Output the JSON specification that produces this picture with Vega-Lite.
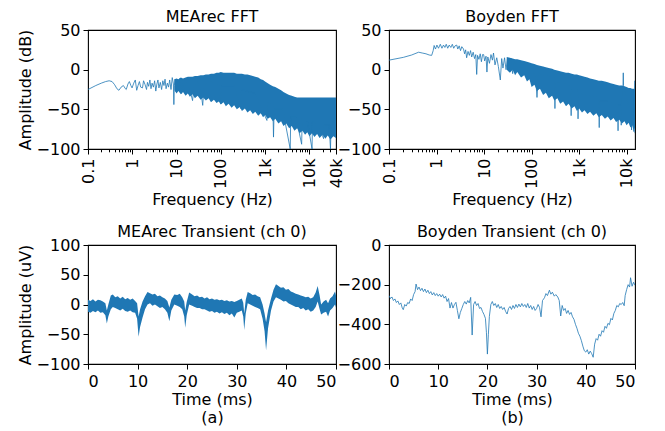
{
  "$schema": "https://vega.github.io/schema/vega-lite/v6.json",
  "padding": {"left": 16, "top": 8, "right": 5, "bottom": 5},
  "config": {
    "font": "DejaVu Sans",
    "view": {"stroke": "#000", "strokeWidth": 1.1},
    "axis": {"domain": false, "grid": false, "labelFontSize": 16, "titleFontSize": 16, "titleFontWeight": "normal", "labelColor": "#000", "titleColor": "#000", "tickColor": "#000", "tickSize": 5, "tickWidth": 1, "labelPadding": 3, "titlePadding": 3},
    "title": {"fontSize": 16, "fontWeight": "normal", "color": "#000", "offset": -3},
    "line": {"color": "#1f77b4", "strokeWidth": 0.8},
    "area": {"color": "#1f77b4"}
  },
  "datasets": {
    "meaLine": [
      {"f":0.1,"y":-25},{"f":0.15,"y":-20},{"f":0.2,"y":-17},{"f":0.25,"y":-15},{"f":0.3,"y":-14},{"f":0.35,"y":-15},{"f":0.4,"y":-19},{"f":0.45,"y":-24},{"f":0.5,"y":-26},{"f":0.56,"y":-22},{"f":0.63,"y":-20},{"f":0.7,"y":-24},{"f":0.73,"y":-25},{"f":0.8,"y":-18},{"f":0.86,"y":-15},{"f":0.93,"y":-20},{"f":0.99,"y":-23},{"f":1.08,"y":-17},{"f":1.17,"y":-13},{"f":1.26,"y":-26},{"f":1.35,"y":-20},{"f":1.45,"y":-15},{"f":1.55,"y":-22},{"f":1.7,"y":-23},{"f":1.8,"y":-14},{"f":1.95,"y":-19},{"f":2.1,"y":-25},{"f":2.2,"y":-16},{"f":2.35,"y":-21},{"f":2.5,"y":-13},{"f":2.65,"y":-24},{"f":2.8,"y":-17},{"f":3.0,"y":-22},{"f":3.2,"y":-14},{"f":3.4,"y":-27},{"f":3.6,"y":-18},{"f":3.8,"y":-13},{"f":4.0,"y":-23},{"f":4.3,"y":-16},{"f":4.6,"y":-25},{"f":4.9,"y":-14},{"f":5.2,"y":-20},{"f":5.5,"y":-12},{"f":5.8,"y":-24},{"f":6.2,"y":-17},{"f":6.6,"y":-22},{"f":7.0,"y":-13},{"f":7.5,"y":-25},{"f":8.0,"y":-10},{"f":8.5,"y":-18},{"f":8.7,"y":-44},{"f":8.9,"y":-20},{"f":9.3,"y":-12},{"f":9.8,"y":-28},{"f":10.5,"y":-14},{"f":11,"y":-26},{"f":12,"y":-11},{"f":13,"y":-30},{"f":14,"y":-13},{"f":15,"y":-27},{"f":16,"y":-15},{"f":20,"y":-25},{"f":23,"y":-39},{"f":25,"y":-20},{"f":30,"y":-15},{"f":36,"y":-30},{"f":39,"y":-45},{"f":42,"y":-20},{"f":60,"y":-15},{"f":95,"y":-20},{"f":100,"y":-43},{"f":105,"y":-20},{"f":200,"y":-20},{"f":280,"y":-49},{"f":290,"y":-25},{"f":600,"y":-30},{"f":1100,"y":-64},{"f":1150,"y":-40},{"f":1500,"y":-45},{"f":1550,"y":-85},{"f":1600,"y":-50},{"f":2500,"y":-50},{"f":3700,"y":-100},{"f":3800,"y":-60},{"f":5000,"y":-60},{"f":6700,"y":-94},{"f":6900,"y":-60},{"f":9000,"y":-65},{"f":11500,"y":-100},{"f":11800,"y":-65},{"f":16000,"y":-70},{"f":21000,"y":-87},{"f":21500,"y":-70},{"f":28000,"y":-70},{"f":30000,"y":-100},{"f":31000,"y":-70},{"f":40000,"y":-60}
    ],
    "meaBand": [
      {"f":9,"y":-12,"lo":-26},{"f":10,"y":-11,"lo":-30},{"f":11,"y":-12,"lo":-27},{"f":12.5,"y":-10,"lo":-31},{"f":14,"y":-11,"lo":-28},{"f":16,"y":-10,"lo":-33},{"f":18,"y":-9,"lo":-30},{"f":20,"y":-9,"lo":-34},{"f":23,"y":-9,"lo":-31},{"f":26,"y":-8,"lo":-36},{"f":30,"y":-8,"lo":-33},{"f":35,"y":-7,"lo":-38},{"f":40,"y":-7,"lo":-35},{"f":46,"y":-6,"lo":-39},{"f":53,"y":-6,"lo":-36},{"f":60,"y":-5,"lo":-41},{"f":70,"y":-5,"lo":-38},{"f":80,"y":-4,"lo":-42},{"f":90,"y":-4,"lo":-40},{"f":100,"y":-3,"lo":-44},{"f":115,"y":-4,"lo":-41},{"f":130,"y":-4,"lo":-46},{"f":150,"y":-4,"lo":-43},{"f":175,"y":-4,"lo":-48},{"f":200,"y":-4,"lo":-45},{"f":230,"y":-5,"lo":-50},{"f":270,"y":-5,"lo":-47},{"f":300,"y":-5,"lo":-52},{"f":350,"y":-6,"lo":-49},{"f":400,"y":-6,"lo":-54},{"f":460,"y":-7,"lo":-51},{"f":530,"y":-8,"lo":-56},{"f":600,"y":-9,"lo":-53},{"f":700,"y":-10,"lo":-58},{"f":800,"y":-12,"lo":-55},{"f":900,"y":-13,"lo":-60},{"f":1000,"y":-15,"lo":-57},{"f":1150,"y":-17,"lo":-62},{"f":1300,"y":-19,"lo":-60},{"f":1500,"y":-21,"lo":-65},{"f":1700,"y":-22,"lo":-62},{"f":2000,"y":-24,"lo":-68},{"f":2300,"y":-26,"lo":-65},{"f":2600,"y":-28,"lo":-71},{"f":3000,"y":-30,"lo":-68},{"f":3500,"y":-32,"lo":-74},{"f":4000,"y":-33,"lo":-71},{"f":4600,"y":-34,"lo":-77},{"f":5300,"y":-35,"lo":-74},{"f":6000,"y":-35,"lo":-80},{"f":7000,"y":-35,"lo":-77},{"f":8000,"y":-35,"lo":-82},{"f":9000,"y":-35,"lo":-79},{"f":10000,"y":-35,"lo":-84},{"f":11500,"y":-35,"lo":-80},{"f":13000,"y":-35,"lo":-85},{"f":15000,"y":-35,"lo":-81},{"f":17000,"y":-35,"lo":-86},{"f":20000,"y":-35,"lo":-82},{"f":23000,"y":-35,"lo":-87},{"f":26000,"y":-35,"lo":-83},{"f":30000,"y":-35,"lo":-88},{"f":35000,"y":-35,"lo":-84},{"f":40000,"y":-35,"lo":-86}
    ],
    "boyLine": [
      {"f":0.1,"y":12},{"f":0.2,"y":15.5},{"f":0.3,"y":18.5},{"f":0.42,"y":22},{"f":0.5,"y":21},{"f":0.6,"y":20},{"f":0.7,"y":18.5},{"f":0.79,"y":18},{"f":0.85,"y":24},{"f":0.89,"y":30.5},{"f":0.95,"y":26},{"f":1.02,"y":31},{"f":1.1,"y":27},{"f":1.2,"y":32},{"f":1.3,"y":27},{"f":1.4,"y":31},{"f":1.5,"y":28},{"f":1.6,"y":32},{"f":1.72,"y":27},{"f":1.85,"y":31},{"f":2.0,"y":28},{"f":2.15,"y":32},{"f":2.3,"y":27},{"f":2.45,"y":30},{"f":2.66,"y":31},{"f":2.8,"y":26},{"f":3.0,"y":30},{"f":3.2,"y":24},{"f":3.4,"y":29},{"f":3.7,"y":26},{"f":3.9,"y":20},{"f":4.1,"y":25},{"f":4.3,"y":15},{"f":4.6,"y":23},{"f":4.9,"y":18},{"f":5.2,"y":24},{"f":5.5,"y":16},{"f":5.9,"y":22},{"f":6.3,"y":14},{"f":6.7,"y":19},{"f":7.0,"y":-6},{"f":7.3,"y":18},{"f":7.8,"y":13},{"f":8.3,"y":20},{"f":8.8,"y":10},{"f":9.3,"y":19},{"f":9.8,"y":19},{"f":10.3,"y":11},{"f":11,"y":17},{"f":11.5,"y":-3},{"f":12,"y":16},{"f":13,"y":8},{"f":14,"y":19},{"f":15,"y":12},{"f":15.8,"y":21},{"f":17,"y":6},{"f":18.5,"y":15},{"f":20,"y":4},{"f":22,"y":-13},{"f":23.5,"y":14},{"f":25,"y":2},{"f":27,"y":15},{"f":29,"y":0},{"f":31,"y":13},{"f":34,"y":-2},{"f":37,"y":14},{"f":40,"y":-5},{"f":43,"y":11},{"f":50,"y":5},{"f":120,"y":-5},{"f":130,"y":-35},{"f":140,"y":-5},{"f":300,"y":-10},{"f":310,"y":-49},{"f":320,"y":-15},{"f":660,"y":-20},{"f":680,"y":-58},{"f":700,"y":-25},{"f":930,"y":-25},{"f":950,"y":-62},{"f":980,"y":-30},{"f":2600,"y":-35},{"f":2650,"y":-73},{"f":2700,"y":-40},{"f":4000,"y":-40},{"f":6500,"y":-45},{"f":6600,"y":-77},{"f":6700,"y":-45},{"f":7600,"y":-45},{"f":7700,"y":-70},{"f":7800,"y":-40},{"f":8400,"y":-20},{"f":8500,"y":-4},{"f":8600,"y":-20},{"f":11000,"y":-45},{"f":12500,"y":-50},{"f":12700,"y":-76},{"f":12900,"y":-50},{"f":14000,"y":-50},{"f":14200,"y":-78},{"f":14400,"y":-50},{"f":14980,"y":-14},{"f":15000,"y":-80}
    ],
    "boyBand": [
      {"f":30,"y":16,"lo":0},{"f":35,"y":15,"lo":-4},{"f":40,"y":14,"lo":0},{"f":45,"y":13,"lo":-7},{"f":50,"y":13,"lo":-3},{"f":60,"y":12,"lo":-10},{"f":70,"y":11,"lo":-7},{"f":80,"y":10,"lo":-15},{"f":90,"y":9,"lo":-12},{"f":100,"y":8,"lo":-22},{"f":115,"y":7,"lo":-19},{"f":130,"y":6,"lo":-27},{"f":150,"y":5,"lo":-24},{"f":175,"y":4,"lo":-32},{"f":200,"y":3,"lo":-29},{"f":230,"y":2,"lo":-36},{"f":270,"y":1,"lo":-33},{"f":300,"y":0,"lo":-39},{"f":350,"y":-1,"lo":-36},{"f":400,"y":-2,"lo":-43},{"f":460,"y":-3,"lo":-40},{"f":530,"y":-4,"lo":-46},{"f":600,"y":-4,"lo":-43},{"f":700,"y":-5,"lo":-49},{"f":800,"y":-6,"lo":-46},{"f":900,"y":-6,"lo":-52},{"f":1000,"y":-7,"lo":-49},{"f":1150,"y":-8,"lo":-54},{"f":1300,"y":-9,"lo":-51},{"f":1500,"y":-10,"lo":-56},{"f":1700,"y":-11,"lo":-53},{"f":2000,"y":-12,"lo":-58},{"f":2300,"y":-13,"lo":-55},{"f":2600,"y":-14,"lo":-60},{"f":3000,"y":-14,"lo":-57},{"f":3500,"y":-15,"lo":-62},{"f":4000,"y":-16,"lo":-59},{"f":4600,"y":-17,"lo":-64},{"f":5300,"y":-18,"lo":-61},{"f":6000,"y":-19,"lo":-66},{"f":7000,"y":-20,"lo":-63},{"f":8000,"y":-20,"lo":-68},{"f":9000,"y":-21,"lo":-65},{"f":10000,"y":-22,"lo":-70},{"f":11000,"y":-23,"lo":-67},{"f":12000,"y":-23,"lo":-73},{"f":13000,"y":-24,"lo":-70},{"f":14000,"y":-24,"lo":-76},{"f":15000,"y":-25,"lo":-73}
    ],
    "meaT": [
      {"t":0,"y":8,"lo":-12},{"t":0.5,"y":6,"lo":-14},{"t":1,"y":9,"lo":-11},{"t":1.5,"y":5,"lo":-13},{"t":2,"y":8,"lo":-10},{"t":2.5,"y":7,"lo":-14},{"t":3,"y":5,"lo":-13},{"t":3.5,"y":2,"lo":-18},{"t":3.8,"y":-10,"lo":-32},{"t":4.1,"y":0,"lo":-20},{"t":4.6,"y":15,"lo":-8},{"t":5,"y":17,"lo":-4},{"t":5.5,"y":12,"lo":-6},{"t":6,"y":14,"lo":-8},{"t":6.5,"y":10,"lo":-10},{"t":7,"y":13,"lo":-7},{"t":7.5,"y":9,"lo":-11},{"t":8,"y":11,"lo":-12},{"t":8.5,"y":8,"lo":-10},{"t":9,"y":10,"lo":-13},{"t":9.5,"y":6,"lo":-14},{"t":9.9,"y":2,"lo":-24},{"t":10.2,"y":-20,"lo":-54},{"t":10.5,"y":-8,"lo":-38},{"t":11,"y":5,"lo":-22},{"t":11.5,"y":14,"lo":-8},{"t":12,"y":21,"lo":0},{"t":12.5,"y":19,"lo":2},{"t":13,"y":17,"lo":-2},{"t":13.5,"y":18,"lo":0},{"t":14,"y":14,"lo":-3},{"t":14.5,"y":15,"lo":-6},{"t":15,"y":12,"lo":-4},{"t":15.5,"y":10,"lo":-8},{"t":16,"y":6,"lo":-14},{"t":16.4,"y":-5,"lo":-28},{"t":16.8,"y":8,"lo":-10},{"t":17.4,"y":17,"lo":0},{"t":18,"y":16,"lo":-2},{"t":18.5,"y":18,"lo":-4},{"t":19,"y":12,"lo":-8},{"t":19.4,"y":5,"lo":-20},{"t":19.6,"y":-10,"lo":-39},{"t":19.9,"y":4,"lo":-18},{"t":20.4,"y":20,"lo":0},{"t":21,"y":17,"lo":-2},{"t":21.5,"y":14,"lo":-4},{"t":22,"y":15,"lo":-6},{"t":22.5,"y":12,"lo":-6},{"t":23,"y":13,"lo":-8},{"t":23.5,"y":10,"lo":-8},{"t":24,"y":12,"lo":-10},{"t":24.5,"y":9,"lo":-12},{"t":25,"y":10,"lo":-11},{"t":25.5,"y":8,"lo":-14},{"t":26,"y":9,"lo":-12},{"t":26.5,"y":7,"lo":-15},{"t":27,"y":8,"lo":-13},{"t":27.5,"y":6,"lo":-16},{"t":28,"y":7,"lo":-14},{"t":28.5,"y":5,"lo":-18},{"t":29,"y":6,"lo":-15},{"t":29.5,"y":4,"lo":-22},{"t":30,"y":6,"lo":-14},{"t":30.5,"y":8,"lo":-12},{"t":31,"y":10,"lo":-10},{"t":31.3,"y":3,"lo":-20},{"t":31.5,"y":-15,"lo":-43},{"t":31.8,"y":8,"lo":-15},{"t":32.2,"y":21,"lo":2},{"t":32.7,"y":19,"lo":0},{"t":33.2,"y":16,"lo":-2},{"t":33.7,"y":17,"lo":-4},{"t":34.2,"y":14,"lo":-6},{"t":34.7,"y":12,"lo":-8},{"t":35.2,"y":0,"lo":-24},{"t":35.6,"y":-15,"lo":-45},{"t":35.9,"y":-30,"lo":-77},{"t":36.3,"y":-10,"lo":-40},{"t":36.9,"y":10,"lo":-10},{"t":37.4,"y":25,"lo":5},{"t":37.9,"y":34,"lo":12},{"t":38.4,"y":31,"lo":10},{"t":38.9,"y":28,"lo":8},{"t":39.4,"y":29,"lo":5},{"t":39.9,"y":25,"lo":6},{"t":40.4,"y":26,"lo":2},{"t":40.9,"y":22,"lo":0},{"t":41.4,"y":20,"lo":-2},{"t":41.9,"y":18,"lo":-4},{"t":42.4,"y":17,"lo":-4},{"t":42.9,"y":15,"lo":-8},{"t":43.4,"y":14,"lo":-6},{"t":43.9,"y":12,"lo":-10},{"t":44.4,"y":13,"lo":-8},{"t":44.9,"y":10,"lo":-12},{"t":45.4,"y":12,"lo":-10},{"t":45.9,"y":20,"lo":-4},{"t":46.3,"y":31,"lo":5},{"t":46.7,"y":15,"lo":-8},{"t":47,"y":0,"lo":-17},{"t":47.5,"y":5,"lo":-14},{"t":48,"y":8,"lo":-12},{"t":48.4,"y":2,"lo":-20},{"t":48.8,"y":10,"lo":-10},{"t":49.3,"y":14,"lo":-6},{"t":49.8,"y":22,"lo":0},{"t":50,"y":15,"lo":-5}
    ],
    "boyT": [
      {"t":0,"y":-255},{"t":0.3,"y":-270},{"t":0.6,"y":-262},{"t":0.9,"y":-280},{"t":1.2,"y":-272},{"t":1.5,"y":-290},{"t":1.8,"y":-282},{"t":2.1,"y":-300},{"t":2.4,"y":-292},{"t":2.7,"y":-318},{"t":2.9,"y":-326},{"t":3.2,"y":-300},{"t":3.5,"y":-308},{"t":3.8,"y":-290},{"t":4.1,"y":-295},{"t":4.4,"y":-272},{"t":4.7,"y":-280},{"t":5.0,"y":-250},{"t":5.3,"y":-235},{"t":5.5,"y":-197},{"t":5.8,"y":-225},{"t":6.1,"y":-212},{"t":6.4,"y":-230},{"t":6.7,"y":-218},{"t":7.0,"y":-235},{"t":7.3,"y":-222},{"t":7.6,"y":-240},{"t":7.9,"y":-228},{"t":8.2,"y":-245},{"t":8.5,"y":-235},{"t":8.8,"y":-252},{"t":9.1,"y":-240},{"t":9.4,"y":-255},{"t":9.7,"y":-245},{"t":10.0,"y":-258},{"t":10.3,"y":-248},{"t":10.6,"y":-262},{"t":10.9,"y":-250},{"t":11.2,"y":-268},{"t":11.5,"y":-258},{"t":11.8,"y":-285},{"t":12.1,"y":-270},{"t":12.4,"y":-318},{"t":12.7,"y":-290},{"t":13.0,"y":-318},{"t":13.3,"y":-300},{"t":13.6,"y":-289},{"t":13.9,"y":-330},{"t":14.2,"y":-372},{"t":14.5,"y":-340},{"t":14.8,"y":-320},{"t":15.1,"y":-300},{"t":15.4,"y":-285},{"t":15.7,"y":-298},{"t":16.0,"y":-280},{"t":16.3,"y":-292},{"t":16.6,"y":-264},{"t":16.9,"y":-454},{"t":17.2,"y":-300},{"t":17.5,"y":-285},{"t":17.8,"y":-305},{"t":18.1,"y":-295},{"t":18.4,"y":-320},{"t":18.7,"y":-315},{"t":19.0,"y":-335},{"t":19.3,"y":-350},{"t":19.6,"y":-370},{"t":19.8,"y":-440},{"t":20.0,"y":-550},{"t":20.2,"y":-450},{"t":20.4,"y":-360},{"t":20.7,"y":-300},{"t":21.0,"y":-285},{"t":21.3,"y":-305},{"t":21.6,"y":-295},{"t":21.9,"y":-315},{"t":22.2,"y":-300},{"t":22.5,"y":-320},{"t":22.8,"y":-310},{"t":23.1,"y":-325},{"t":23.4,"y":-315},{"t":23.7,"y":-335},{"t":24.0,"y":-348},{"t":24.3,"y":-320},{"t":24.6,"y":-310},{"t":24.9,"y":-325},{"t":25.2,"y":-305},{"t":25.5,"y":-320},{"t":25.8,"y":-300},{"t":26.1,"y":-315},{"t":26.4,"y":-298},{"t":26.7,"y":-312},{"t":27.0,"y":-295},{"t":27.3,"y":-310},{"t":27.6,"y":-300},{"t":27.9,"y":-315},{"t":28.2,"y":-295},{"t":28.5,"y":-318},{"t":28.8,"y":-305},{"t":29.1,"y":-325},{"t":29.4,"y":-310},{"t":29.7,"y":-330},{"t":30.0,"y":-320},{"t":30.3,"y":-300},{"t":30.6,"y":-315},{"t":30.9,"y":-362},{"t":31.2,"y":-280},{"t":31.6,"y":-266},{"t":31.9,"y":-245},{"t":32.2,"y":-255},{"t":32.6,"y":-228},{"t":32.9,"y":-248},{"t":33.2,"y":-238},{"t":33.6,"y":-258},{"t":33.9,"y":-250},{"t":34.3,"y":-262},{"t":34.6,"y":-280},{"t":34.9,"y":-358},{"t":35.2,"y":-305},{"t":35.5,"y":-330},{"t":35.8,"y":-320},{"t":36.1,"y":-345},{"t":36.4,"y":-330},{"t":36.7,"y":-350},{"t":37.0,"y":-340},{"t":37.3,"y":-362},{"t":37.6,"y":-375},{"t":37.9,"y":-400},{"t":38.2,"y":-420},{"t":38.5,"y":-445},{"t":38.8,"y":-460},{"t":39.1,"y":-482},{"t":39.4,"y":-510},{"t":39.7,"y":-533},{"t":40.0,"y":-540},{"t":40.3,"y":-528},{"t":40.6,"y":-550},{"t":40.9,"y":-535},{"t":41.2,"y":-548},{"t":41.5,"y":-566},{"t":41.8,"y":-500},{"t":42.1,"y":-472},{"t":42.4,"y":-480},{"t":42.7,"y":-450},{"t":43.0,"y":-460},{"t":43.3,"y":-432},{"t":43.6,"y":-440},{"t":43.9,"y":-410},{"t":44.2,"y":-420},{"t":44.5,"y":-395},{"t":44.8,"y":-402},{"t":45.1,"y":-370},{"t":45.4,"y":-378},{"t":45.7,"y":-345},{"t":46.0,"y":-330},{"t":46.3,"y":-305},{"t":46.6,"y":-312},{"t":46.9,"y":-295},{"t":47.2,"y":-300},{"t":47.5,"y":-290},{"t":47.8,"y":-306},{"t":48.0,"y":-255},{"t":48.3,"y":-225},{"t":48.6,"y":-200},{"t":48.9,"y":-212},{"t":49.1,"y":-165},{"t":49.4,"y":-208},{"t":49.7,"y":-188},{"t":50.0,"y":-203}
    ]
  },
  "columns": 2,
  "bounds": "flush",
  "spacing": {"row": 96, "column": 53},
  "concat": [
    {
      "title": "MEArec FFT",
      "width": 248,
      "height": 119,
      "layer": [
        {
          "data": {"name": "meaBand"},
          "mark": {"type": "area", "clip": true},
          "encoding": {
            "x": {"field": "f", "type": "quantitative", "scale": {"type": "log", "domain": [0.1, 40000], "nice": false},
              "axis": {"title": "Frequency (Hz)", "labelAngle": -90, "labelOverlap": false, "labelPadding": 4,
                "values": [0.1,0.2,0.3,0.4,0.5,0.6,0.7,0.8,0.9,1,2,3,4,5,6,7,8,9,10,20,30,40,50,60,70,80,90,100,200,300,400,500,600,700,800,900,1000,2000,3000,4000,5000,6000,7000,8000,9000,10000,20000,30000,40000],
                "labelExpr": "indexof([0.1,1,10,100,1000,10000,40000], datum.value) < 0 ? '' : datum.value < 1 ? '0.1' : datum.value < 1000 ? format(datum.value, 'd') : format(datum.value / 1000, 'd') + 'k'",
                "tickSize": {"condition": {"test": "indexof([0.1,1,10,100,1000,10000,40000], datum.value) >= 0", "value": 5}, "value": 2.8}}},
            "y": {"field": "y", "type": "quantitative", "scale": {"domain": [-100, 50], "nice": false, "zero": false},
              "axis": {"title": "Amplitude (dB)", "values": [-100, -50, 0, 50], "labelOverlap": false}},
            "y2": {"field": "lo"}
          }
        },
        {
          "data": {"name": "meaLine"},
          "mark": {"type": "line", "clip": true},
          "encoding": {
            "x": {"field": "f", "type": "quantitative"},
            "y": {"field": "y", "type": "quantitative",
              "axis": {"title": "Amplitude (dB)", "values": [-100, -50, 0, 50], "labelOverlap": false}}
          }
        }
      ]
    },
    {
      "title": "Boyden FFT",
      "width": 246,
      "height": 119,
      "layer": [
        {
          "data": {"name": "boyBand"},
          "mark": {"type": "area", "clip": true},
          "encoding": {
            "x": {"field": "f", "type": "quantitative", "scale": {"type": "log", "domain": [0.1, 15000], "nice": false},
              "axis": {"title": "Frequency (Hz)", "labelAngle": -90, "labelOverlap": false, "labelPadding": 4,
                "values": [0.1,0.2,0.3,0.4,0.5,0.6,0.7,0.8,0.9,1,2,3,4,5,6,7,8,9,10,20,30,40,50,60,70,80,90,100,200,300,400,500,600,700,800,900,1000,2000,3000,4000,5000,6000,7000,8000,9000,10000],
                "labelExpr": "indexof([0.1,1,10,100,1000,10000], datum.value) < 0 ? '' : datum.value < 1 ? '0.1' : datum.value < 1000 ? format(datum.value, 'd') : format(datum.value / 1000, 'd') + 'k'",
                "tickSize": {"condition": {"test": "indexof([0.1,1,10,100,1000,10000], datum.value) >= 0", "value": 5}, "value": 2.8}}},
            "y": {"field": "y", "type": "quantitative", "scale": {"domain": [-100, 50], "nice": false, "zero": false},
              "axis": {"title": null, "values": [-100, -50, 0, 50], "labelOverlap": false}},
            "y2": {"field": "lo"}
          }
        },
        {
          "data": {"name": "boyLine"},
          "mark": {"type": "line", "clip": true},
          "encoding": {
            "x": {"field": "f", "type": "quantitative"},
            "y": {"field": "y", "type": "quantitative",
              "axis": {"title": null, "values": [-100, -50, 0, 50], "labelOverlap": false}}
          }
        }
      ]
    },
    {
      "title": "MEArec Transient (ch 0)",
      "width": 248,
      "height": 119,
      "data": {"name": "meaT"},
      "mark": {"type": "area", "clip": true},
      "encoding": {
        "x": {"field": "t", "type": "quantitative", "scale": {"domain": [0, 50], "nice": false},
          "axis": {"title": ["Time (ms)", "(a)"], "titleLineHeight": 18, "titlePadding": 2, "labelPadding": 4, "values": [0, 10, 20, 30, 40, 50]}},
        "y": {"field": "y", "type": "quantitative", "scale": {"domain": [-100, 100], "nice": false, "zero": false},
          "axis": {"title": "Amplitude (uV)", "values": [-100, -50, 0, 50, 100]}},
        "y2": {"field": "lo"}
      }
    },
    {
      "title": "Boyden Transient (ch 0)",
      "width": 246,
      "height": 119,
      "data": {"name": "boyT"},
      "mark": {"type": "line", "clip": true},
      "encoding": {
        "x": {"field": "t", "type": "quantitative", "scale": {"domain": [0, 50], "nice": false},
          "axis": {"title": ["Time (ms)", "(b)"], "titleLineHeight": 18, "titlePadding": 2, "labelPadding": 4, "values": [0, 10, 20, 30, 40, 50]}},
        "y": {"field": "y", "type": "quantitative", "scale": {"domain": [-600, 0], "nice": false, "zero": false},
          "axis": {"title": null, "values": [-600, -400, -200, 0]}}
      }
    }
  ]
}
